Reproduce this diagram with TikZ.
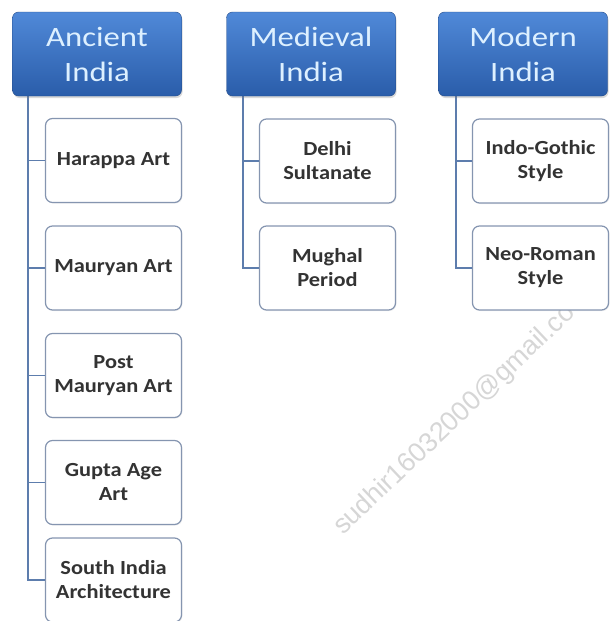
\documentclass[tikz,border=0pt]{standalone}
\usepackage{fontspec}
\setmainfont[FakeStretch=1.17]{Carlito}
\newfontfamily\itemfont[FakeStretch=1.12]{Carlito}
\usepackage{xcolor}
\definecolor{headTop}  {HTML}{5089D8}
\definecolor{headBot}  {HTML}{2A5DAA}
\definecolor{headText} {HTML}{DDF0FF}
\definecolor{itemLine} {HTML}{8595B0}
\definecolor{treeBlue} {HTML}{5D7DAD}
\definecolor{markGray} {HTML}{D6D6D6}
\usetikzlibrary{arrows.meta, positioning, calc, shadows}
\tikzset{
    headnode/.style={rectangle, rounded corners=6pt, draw=headBot!80!black,
                     top color=headTop, bottom color=headBot,
                     text=headText, align=center, inner sep=2pt,
                     font=\fontsize{28}{35}\selectfont,
                     minimum width=169pt, minimum height=84pt,
                     drop shadow={opacity=0.3, shadow xshift=1pt, shadow yshift=-2pt}},
    itemnode/.style={rectangle, rounded corners=7pt, draw=itemLine,
                     line width=1.2pt, fill=white, align=center,
                     text=black!80, inner sep=2pt,
                     font=\itemfont\fontsize{20}{24}\selectfont\bfseries,
                     minimum width=136pt, minimum height=84pt,
                     drop shadow={opacity=0.12, shadow xshift=1pt, shadow yshift=-1pt}},
    treeedge/.style={-, line width=1.4pt, treeBlue},
}

\begin{document}
\begin{tikzpicture}[x=1pt, y=-1pt]
\useasboundingbox (0,0) rectangle (610,621);
% Watermark, faint and slanted.
\node[text=markGray, rotate=43.5, font=\fontspec{Liberation Sans}\fontsize{27}{30}\selectfont]
    (mark) at (455,420) {sudhir16032000@gmail.co};
% Spines: one per period, leaving the header near its left edge.
\coordinate (sA) at (28,96);
\coordinate (sM) at (243,96);
\coordinate (sN) at (456,96);
% Ancient India and its five entries.
\node[itemnode] (a1) at (113.5,160.5) {Harappa Art};
\node[itemnode] (a2) at (113.5,268)   {Mauryan Art};
\node[itemnode] (a3) at (113.5,375.5) {Post\\Mauryan Art};
\node[itemnode] (a4) at (113.5,482.5) {Gupta Age\\Art};
\node[itemnode] (a5) at (113.5,580)   {South India\\Architecture};
% Medieval India.
\node[itemnode] (m1) at (327.5,161) {Delhi\\Sultanate};
\node[itemnode] (m2) at (327.5,268) {Mughal\\Period};
% Modern India.
\node[itemnode] (n1) at (540.5,161) {Indo-Gothic\\Style};
\node[itemnode] (n2) at (540.5,268) {Neo-Roman\\Style};
% Edges.
\draw[treeedge] (sA) |- (a5.west);
\draw[treeedge] (sA) |- (a1.west);
\draw[treeedge] (sA) |- (a2.west);
\draw[treeedge] (sA) |- (a3.west);
\draw[treeedge] (sA) |- (a4.west);
\draw[treeedge] (sM) |- (m2.west);
\draw[treeedge] (sM) |- (m1.west);
\draw[treeedge] (sN) |- (n2.west);
\draw[treeedge] (sN) |- (n1.west);
% Period headers, drawn last so the spines start under them.
\node[headnode] (hA) at (97,54)  {Ancient\\India};
\node[headnode] (hM) at (311,54) {Medieval\\India};
\node[headnode] (hN) at (523,54) {Modern\\India};
\end{tikzpicture}
\end{document}
